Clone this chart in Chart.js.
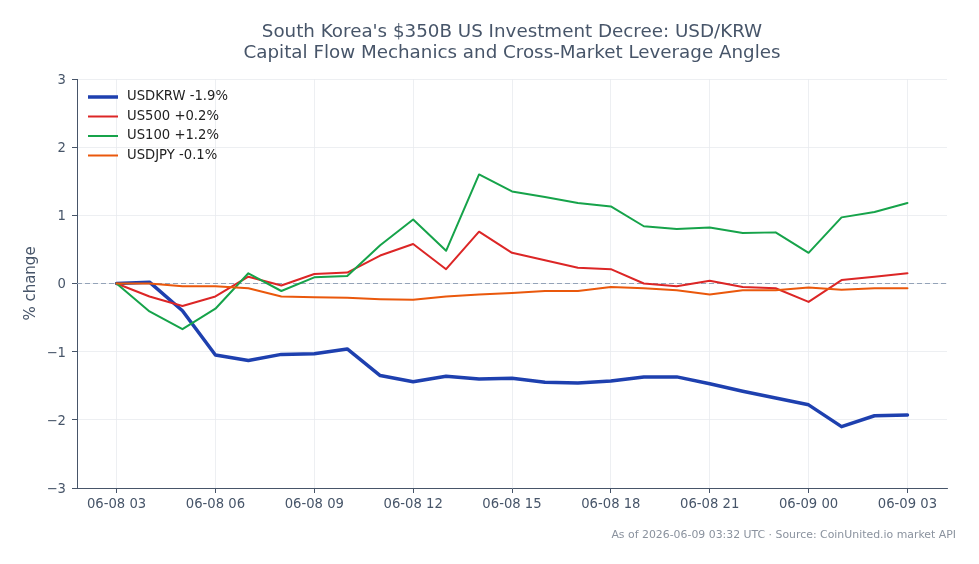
<!DOCTYPE html>
<html>
<head>
<meta charset="utf-8">
<script src="https://cdn.jsdelivr.net/npm/chart.js@4/dist/chart.umd.min.js"></script>
<style>
  html, body { margin: 0; padding: 0; background: #ffffff; }
  #wrap { width: 979px; height: 564px; position: relative; }
</style>
</head>
<body>
<div id="wrap"><canvas id="c" width="979" height="564"></canvas></div>
<script>
// ---- Data (hours since 2026-06-08 03:00 UTC) ----
const hours = [0,1,2,3,4,5,6,7,8,9,10,11,12,13,14,15,16,17,18,19,20,21,22,23,24];
const usdkrw = [0.00,0.02,-0.40,-1.05,-1.13,-1.04,-1.03,-0.96,-1.35,-1.44,-1.36,-1.40,-1.39,-1.45,-1.46,-1.43,-1.37,-1.37,-1.47,-1.58,-1.68,-1.78,-2.10,-1.94,-1.93];
const us500  = [0.00,-0.19,-0.33,-0.19,0.10,-0.03,0.14,0.16,0.41,0.58,0.21,0.76,0.45,0.34,0.23,0.21,0.00,-0.04,0.04,-0.05,-0.07,-0.27,0.05,0.10,0.15];
const us100  = [0.00,-0.41,-0.67,-0.37,0.15,-0.11,0.09,0.11,0.56,0.94,0.48,1.60,1.35,1.27,1.18,1.13,0.84,0.80,0.82,0.74,0.75,0.45,0.97,1.05,1.18];
const usdjpy = [0.00,0.00,-0.04,-0.04,-0.07,-0.19,-0.20,-0.21,-0.23,-0.24,-0.19,-0.16,-0.14,-0.11,-0.11,-0.05,-0.07,-0.10,-0.16,-0.10,-0.10,-0.06,-0.09,-0.07,-0.07];
const seriesLabels = ["USDKRW -1.9%","US500 +0.2%","US100 +1.2%","USDJPY -0.1%"];
const tickHours = [0,3,6,9,12,15,18,21,24];
const tickLabels = ["06-08 03","06-08 06","06-08 09","06-08 12","06-08 15","06-08 18","06-08 21","06-09 00","06-09 03"];
const yTicks = [-3,-2,-1,0,1,2,3];
const titleLines = ["South Korea's $350B US Investment Decree: USD/KRW","Capital Flow Mechanics and Cross-Market Leverage Angles"];
const yAxisLabel = "% change";
const footerText = "As of 2026-06-09 03:32 UTC \u00b7 Source: CoinUnited.io market API";

const colors = ["#1e40af","#dc2626","#16a34a","#ea580c"];
const widths = [3.5,2,2,2];
const seriesValues = [usdkrw, us500, us100, usdjpy];

const FONT = "'DejaVu Sans', sans-serif";
const SLATE = "#475569";

const datasets = seriesValues.map((vals, i) => ({
  label: seriesLabels[i],
  data: hours.map((h, j) => ({ x: h, y: vals[j] })),
  borderColor: colors[i],
  backgroundColor: colors[i],
  borderWidth: widths[i],
  pointRadius: 0,
  tension: 0,
  fill: false,
  order: 4 - i,
  borderJoinStyle: 'round',
  borderCapStyle: 'round'
}));

const overlay = {
  id: 'overlay',
  beforeDatasetsDraw(chart) {
    const ctx = chart.ctx, a = chart.chartArea;
    const y0 = chart.scales.y.getPixelForValue(0);
    ctx.save();
    ctx.strokeStyle = '#94a3b8';
    ctx.lineWidth = 1.2;
    ctx.setLineDash([5, 3]);
    ctx.beginPath();
    ctx.moveTo(a.left, y0);
    ctx.lineTo(a.right, y0);
    ctx.stroke();
    ctx.restore();
  },
  afterDraw(chart) {
    const ctx = chart.ctx, a = chart.chartArea;
    ctx.save();
    // title
    ctx.fillStyle = SLATE;
    ctx.font = "18.3px " + FONT;
    ctx.textAlign = 'center';
    ctx.textBaseline = 'middle';
    const cx = (a.left + a.right) / 2;
    ctx.fillText(titleLines[0], cx, 32);
    ctx.fillText(titleLines[1], cx, 53);
    // y label
    ctx.save();
    ctx.translate(31, (a.top + a.bottom) / 2);
    ctx.rotate(-Math.PI / 2);
    ctx.font = "15px " + FONT;
    ctx.fillStyle = SLATE;
    ctx.fillText(yAxisLabel, 0, 0);
    ctx.restore();
    // legend
    ctx.font = "13.2px " + FONT;
    ctx.textAlign = 'left';
    for (let i = 0; i < seriesLabels.length; i++) {
      const yy = 97 + i * 19.5;
      ctx.strokeStyle = colors[i];
      ctx.lineWidth = widths[i];
      ctx.setLineDash([]);
      ctx.beginPath();
      ctx.moveTo(88, yy);
      ctx.lineTo(118, yy);
      ctx.stroke();
      ctx.fillStyle = '#222222';
      ctx.fillText(seriesLabels[i], 127, yy);
    }
    // footer
    ctx.font = "10.9px " + FONT;
    ctx.fillStyle = '#8a929e';
    ctx.textAlign = 'right';
    ctx.fillText(footerText, 956, 535);
    ctx.restore();
  }
};

new Chart(document.getElementById('c'), {
  type: 'line',
  data: { datasets },
  options: {
    responsive: false,
    animation: false,
    layout: { padding: { left: 0, right: 32, top: 79, bottom: 0 } },
    plugins: { legend: { display: false }, title: { display: false }, tooltip: { enabled: false } },
    scales: {
      x: {
        type: 'linear',
        min: -1.2,
        max: 25.2,
        afterBuildTicks(scale) { scale.ticks = tickHours.map(v => ({ value: v })); },
        afterFit(scale) { scale.height = 76; },
        ticks: {
          autoSkip: false,
          maxRotation: 0,
          padding: 4,
          color: SLATE,
          font: { family: FONT, size: 13.2 },
          callback: (v) => tickLabels[tickHours.indexOf(v)]
        },
        grid: { color: '#e8ebef', lineWidth: 0.8, drawTicks: true, tickLength: 5, tickColor: SLATE, tickWidth: 1 },
        border: { display: true, color: SLATE, width: 1 }
      },
      y: {
        type: 'linear',
        min: -3,
        max: 3,
        afterBuildTicks(scale) { scale.ticks = yTicks.map(v => ({ value: v })); },
        afterFit(scale) { scale.width = 77; },
        ticks: {
          padding: 6,
          labelOffset: 1.5,
          color: SLATE,
          font: { family: FONT, size: 13.2 },
          callback: (v) => String(v).replace('-', '\u2212')
        },
        grid: { color: '#e8ebef', lineWidth: 0.8, drawTicks: true, tickLength: 5, tickColor: SLATE, tickWidth: 1 },
        border: { display: true, color: SLATE, width: 1 }
      }
    }
  },
  plugins: [overlay]
});
</script>
</body>
</html>
